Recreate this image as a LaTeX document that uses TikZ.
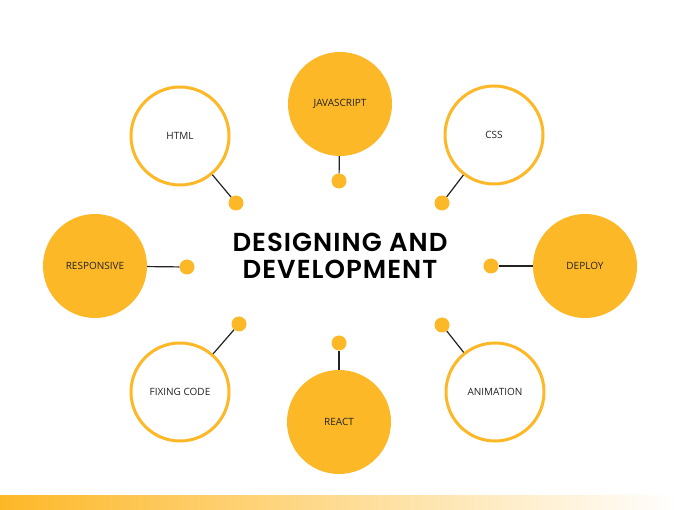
\documentclass[tikz,border=0pt]{standalone}
\usepackage{fontspec}
\setmainfont{Open Sans}
\newfontfamily\titlefont{Poppins SemiBold}[LetterSpace=4]
\usetikzlibrary{calc}
\definecolor{gold}{HTML}{FDB827}
\definecolor{ink}{HTML}{222222}
\begin{document}
\begin{tikzpicture}[x=1pt,y=-1pt,
  ringnode/.style={circle,draw=gold,line width=3pt,fill=white,minimum size=98pt,inner sep=0pt,font=\fontsize{10}{11}\selectfont,text=ink},
  discnode/.style={circle,fill=gold,minimum size=104pt,inner sep=0pt,font=\fontsize{10}{11}\selectfont,text=ink},
  dotnode/.style={circle,fill=gold,minimum size=15pt,inner sep=0pt},
  link/.style={draw=ink,line width=1.2pt}]
\useasboundingbox (0,0) rectangle (680,510);
\fill[white] (0,0) rectangle (680,510);
\shade[left color=gold,right color=white] (0,495) rectangle (680,510);
% circles
\node[ringnode] (html) at (180,136) {HTML};
\node[discnode] (js) at (340,104) {JAVASCRIPT};
\node[ringnode] (css) at (494,135) {CSS};
\node[discnode] (resp) at (95,266) {RESPONSIVE};
\node[discnode] (deploy) at (585,266) {DEPLOY};
\node[ringnode] (fix) at (180,392) {FIXING CODE};
\node[discnode] (react) at (339,422) {REACT};
\node[ringnode] (anim) at (495,392) {ANIMATION};
% dots
\node[dotnode] (dhtml) at (236,203) {};
\node[dotnode] (djs) at (339,181) {};
\node[dotnode] (dcss) at (442,203) {};
\node[dotnode] (dresp) at (187,267) {};
\node[dotnode] (ddeploy) at (491,266) {};
\node[dotnode] (dfix) at (239,324) {};
\node[dotnode] (dreact) at (339,343) {};
\node[dotnode] (danim) at (442,325) {};
% links
\draw[link] (html) -- (dhtml);
\draw[link] (js) -- (djs);
\draw[link] (css) -- (dcss);
\draw[link] (resp) -- (dresp);
\draw[link] (deploy) -- (ddeploy);
\draw[link] (fix) -- (dfix);
\draw[link] (react) -- (dreact);
\draw[link] (anim) -- (danim);
% title
\node[align=center,font=\titlefont\fontsize{26}{27}\selectfont,text=black] (title) at (340,256) {DESIGNING AND\\DEVELOPMENT};
\end{tikzpicture}
\end{document}
